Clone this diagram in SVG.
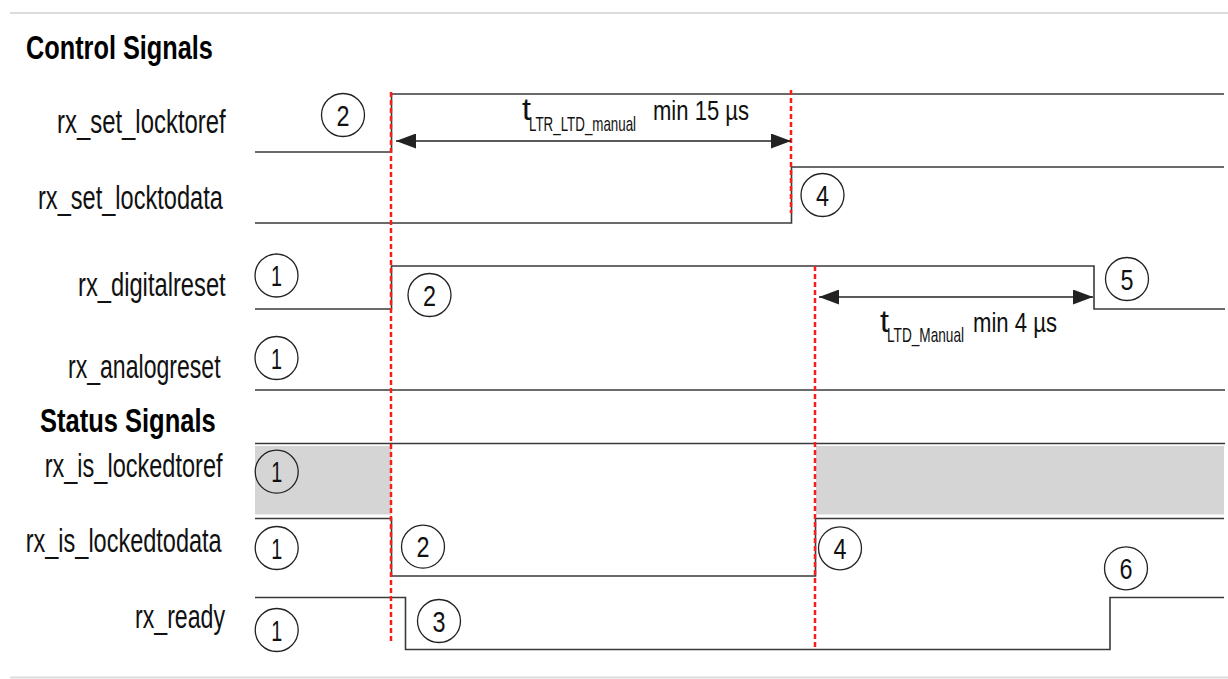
<svg xmlns="http://www.w3.org/2000/svg" width="1228" height="679" viewBox="0 0 1228 679">
<style>
.lbl{font-family:"Liberation Sans Narrow","Liberation Sans",Arial,sans-serif;font-size:34px;fill:#111}
.hd{font-family:"Liberation Sans Narrow","Liberation Sans",Arial,sans-serif;font-size:34px;font-weight:bold;fill:#000}
.sig{fill:none;stroke:#3a3a3a;stroke-width:1.6}
.red{fill:none;stroke:#ff1a1a;stroke-width:2.5;stroke-dasharray:5 3}
.num circle{fill:none;stroke:#222;stroke-width:1.3}
.num text{font-family:"Liberation Sans Narrow","Liberation Sans",Arial,sans-serif;font-size:29px;fill:#111}
.ann{font-family:"Liberation Sans Narrow","Liberation Sans",Arial,sans-serif;fill:#111}
.dim{stroke:#222;stroke-width:1.6;fill:none}
.gray{fill:#d6d5d6}
</style>
<defs>
<marker id="ah" viewBox="0 0 20 15" refX="20" refY="7.5" markerWidth="20" markerHeight="15" markerUnits="userSpaceOnUse" orient="auto-start-reverse">
<path d="M0,0 L20,7.5 L0,15 Z" fill="#222"/>
</marker>
</defs>
<rect x="0" y="0" width="1228" height="679" fill="#fff"/>
<line x1="10" y1="13" x2="1228" y2="13" stroke="#dcdcdc" stroke-width="2"/>
<line x1="10" y1="677.5" x2="1228" y2="677.5" stroke="#dcdcdc" stroke-width="2"/>

<g id="headings">
<text class="hd" transform="translate(26,59) scale(0.7,1)" textLength="267" lengthAdjust="spacingAndGlyphs">Control Signals</text>
<text class="hd" transform="translate(40,432) scale(0.7,1)" textLength="251" lengthAdjust="spacingAndGlyphs">Status Signals</text>
</g>

<g id="labels">
<text class="lbl" transform="translate(57,133) scale(0.7,1)" textLength="241" lengthAdjust="spacingAndGlyphs">rx_set_locktoref</text>
<text class="lbl" transform="translate(38,209) scale(0.7,1)" textLength="264" lengthAdjust="spacingAndGlyphs">rx_set_locktodata</text>
<text class="lbl" transform="translate(78,296) scale(0.7,1)" textLength="211" lengthAdjust="spacingAndGlyphs">rx_digitalreset</text>
<text class="lbl" transform="translate(68,378) scale(0.7,1)" textLength="218" lengthAdjust="spacingAndGlyphs">rx_analogreset</text>
<text class="lbl" transform="translate(44.7,477) scale(0.7,1)" textLength="254" lengthAdjust="spacingAndGlyphs">rx_is_lockedtoref</text>
<text class="lbl" transform="translate(25.7,552) scale(0.7,1)" textLength="280" lengthAdjust="spacingAndGlyphs">rx_is_lockedtodata</text>
<text class="lbl" transform="translate(135,628) scale(0.7,1)" textLength="128.6" lengthAdjust="spacingAndGlyphs">rx_ready</text>
</g>

<g id="grayregions">
<rect class="gray" x="255" y="446" width="136.5" height="68.5"/>
<rect class="gray" x="816" y="446" width="408" height="68.5"/>
</g>

<g id="waveforms">
<path id="w_locktoref" class="sig" d="M255,152 H391.5 V94 H1224"/>
<path id="w_locktodata" class="sig" d="M255,223 H791.5 V167 H1224"/>
<path id="w_digitalreset" class="sig" d="M255,309 H391.5 V266 H1094 V309 H1225"/>
<path id="w_analogreset" class="sig" d="M255,390 H1225"/>
<path id="w_islockedtoref" class="sig" d="M255,443.5 H1225"/>
<path id="w_islockedtodata" class="sig" d="M255,518.5 H391.5 V576 H815.5 V518.5 H1224"/>
<path id="w_ready" class="sig" d="M255,597.5 H405.5 V649.5 H1110 V597.5 H1224"/>
</g>

<g id="markers-red">
<line class="red" x1="391" y1="92" x2="391" y2="642"/>
<line class="red" x1="791" y1="90" x2="791" y2="213"/>
<line class="red" x1="815" y1="266" x2="815" y2="650"/>
</g>

<g id="connectors">
<line class="dim" x1="396" y1="141" x2="791" y2="141" marker-start="url(#ah)" marker-end="url(#ah)"/>
<line class="dim" x1="819" y1="297" x2="1093" y2="297" marker-start="url(#ah)" marker-end="url(#ah)"/>
</g>

<g id="annotations">
<text class="ann" x="522" y="120" font-size="32" textLength="9" lengthAdjust="spacingAndGlyphs">t</text>
<text class="ann" transform="translate(529,131) scale(0.7,1)" font-size="20" textLength="153" lengthAdjust="spacingAndGlyphs">LTR_LTD_manual</text>
<text class="ann" transform="translate(653,120) scale(0.8,1)" font-size="27" textLength="120" lengthAdjust="spacingAndGlyphs">min 15 µs</text>
<text class="ann" x="880" y="332" font-size="32" textLength="9" lengthAdjust="spacingAndGlyphs">t</text>
<text class="ann" transform="translate(887,342) scale(0.7,1)" font-size="20" textLength="110" lengthAdjust="spacingAndGlyphs">LTD_Manual</text>
<text class="ann" transform="translate(973,332) scale(0.8,1)" font-size="27" textLength="105" lengthAdjust="spacingAndGlyphs">min 4 µs</text>
</g>

<g id="callouts">
<g id="c2a" class="num"><circle cx="343" cy="115" r="21.5"/><text x="336.5" y="125.5" textLength="13" lengthAdjust="spacingAndGlyphs">2</text></g>
<g id="c4a" class="num"><circle cx="822.5" cy="195" r="21.5"/><text x="816" y="205.5" textLength="13" lengthAdjust="spacingAndGlyphs">4</text></g>
<g id="c1a" class="num"><circle cx="276.5" cy="275.5" r="21.5"/><text x="271" y="286" textLength="11" lengthAdjust="spacingAndGlyphs">1</text></g>
<g id="c2b" class="num"><circle cx="429.5" cy="295" r="21.5"/><text x="423" y="305.5" textLength="13" lengthAdjust="spacingAndGlyphs">2</text></g>
<g id="c5" class="num"><circle cx="1127" cy="279" r="21.5"/><text x="1120.5" y="289.5" textLength="13" lengthAdjust="spacingAndGlyphs">5</text></g>
<g id="c1b" class="num"><circle cx="276.5" cy="358" r="21.5"/><text x="271" y="368.5" textLength="11" lengthAdjust="spacingAndGlyphs">1</text></g>
<g id="c1c" class="num"><circle cx="276.7" cy="471.7" r="21.5"/><text x="271.2" y="482.2" textLength="11" lengthAdjust="spacingAndGlyphs">1</text></g>
<g id="c1d" class="num"><circle cx="276.7" cy="548" r="21.5"/><text x="271.2" y="558.5" textLength="11" lengthAdjust="spacingAndGlyphs">1</text></g>
<g id="c2c" class="num"><circle cx="423" cy="546.7" r="21.5"/><text x="416.5" y="557.2" textLength="13" lengthAdjust="spacingAndGlyphs">2</text></g>
<g id="c4b" class="num"><circle cx="840" cy="548.3" r="21.5"/><text x="833.5" y="558.8" textLength="13" lengthAdjust="spacingAndGlyphs">4</text></g>
<g id="c1e" class="num"><circle cx="276.7" cy="630" r="21.5"/><text x="271.2" y="640.5" textLength="11" lengthAdjust="spacingAndGlyphs">1</text></g>
<g id="c3" class="num"><circle cx="439" cy="621" r="21.5"/><text x="432.5" y="631.5" textLength="13" lengthAdjust="spacingAndGlyphs">3</text></g>
<g id="c6" class="num"><circle cx="1126" cy="568.3" r="21.5"/><text x="1119.5" y="578.8" textLength="13" lengthAdjust="spacingAndGlyphs">6</text></g>
</g>
</svg>
